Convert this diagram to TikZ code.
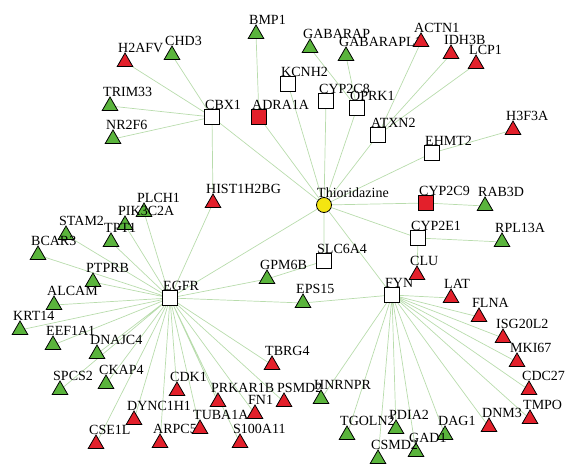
\documentclass[tikz,border=0pt]{standalone}
\usepackage{fontspec}
\setmainfont{Liberation Serif}
\usetikzlibrary{shapes.geometric,backgrounds}
\definecolor{netRed}{HTML}{E3202B}
\definecolor{netGreen}{HTML}{5AB43C}
\definecolor{netYellow}{HTML}{F4E511}
\definecolor{edgeGreen}{HTML}{B8DCAC}

\begin{document}
\begin{tikzpicture}[
    x=1pt, y=-1pt,
    font=\fontsize{14}{16}\selectfont,
    lab/.style={anchor=base west, xshift=-7pt, inner sep=0pt},
    tri/.style={draw, thick, regular polygon, regular polygon sides=3, minimum size=18pt, inner sep=0pt, yshift=-2pt},
    gtri/.style={tri, fill=netGreen},
    rtri/.style={tri, fill=netRed},
    sq/.style={draw, thick, rectangle, minimum size=15pt, inner sep=0pt, fill=white},
    rsq/.style={sq, fill=netRed},
    drug/.style={draw, thick, circle, minimum size=15pt, inner sep=0pt, fill=netYellow},
    edge/.style={draw=edgeGreen, line width=0.7pt}
]
    \useasboundingbox (0,0) rectangle (565,466);

    % drug and target proteins
    \node[drug, label={[lab]north:Thioridazine}] (thio) at (324,205) {};
    \node[sq, label={[lab]north:CBX1}] (CBX1) at (212,117) {};
    \node[rsq, label={[lab]north:ADRA1A}] (ADRA1A) at (259,117) {};
    \node[sq, label={[lab]north:KCNH2}] (KCNH2) at (288,84) {};
    \node[sq, label={[lab]north:CYP2C8}] (CYP2C8) at (326,101) {};
    \node[sq, label={[lab]north:OPRK1}] (OPRK1) at (357,108) {};
    \node[sq, label={[lab]north:ATXN2}] (ATXN2) at (378,135) {};
    \node[sq, label={[lab]north:EHMT2}] (EHMT2) at (432,153) {};
    \node[rsq, label={[lab]north:CYP2C9}] (CYP2C9) at (426,203) {};
    \node[sq, label={[lab]north:CYP2E1}] (CYP2E1) at (418,238) {};
    \node[sq, label={[lab]north:SLC6A4}] (SLC6A4) at (324,261) {};
    \node[sq, label={[lab]north:EGFR}] (EGFR) at (170,298) {};
    \node[sq, label={[lab]north:FYN}] (FYN) at (392,295) {};

    % top
    \node[rtri, label={[lab]north:H2AFV}] (H2AFV) at (125,60) {};
    \node[gtri, label={[lab]north:CHD3}] (CHD3) at (172,53) {};
    \node[gtri, label={[lab]north:TRIM33}] (TRIM33) at (110,104) {};
    \node[gtri, label={[lab]north:NR2F6}] (NR2F6) at (113,137) {};
    \node[gtri, label={[lab]north:BMP1}] (BMP1) at (256,32) {};
    \node[gtri, label={[lab]north:GABARAP}] (GABARAP) at (310,46) {};
    \node[gtri, label={[lab]north:GABARAPL1}] (GABARAPL1) at (346,54) {};
    \node[rtri, label={[lab]north:ACTN1}] (ACTN1) at (421,40) {};
    \node[rtri, label={[lab]north:IDH3B}] (IDH3B) at (451,52) {};
    \node[rtri, label={[lab]north:LCP1}] (LCP1) at (476,62) {};
    \node[rtri, label={[lab]north:H3F3A}] (H3F3A) at (513,128) {};

    % middle
    \node[rtri, label={[lab]north:HIST1H2BG}] (HIST1H2BG) at (213,201) {};
    \node[gtri, label={[lab]north:RAB3D}] (RAB3D) at (485,204) {};
    \node[gtri, label={[lab]north:RPL13A}] (RPL13A) at (502,240) {};
    \node[rtri, label={[lab]north:CLU}] (CLU) at (417,273) {};
    \node[gtri, label={[lab]north:GPM6B}] (GPM6B) at (267,277) {};
    \node[gtri, label={[lab]north:EPS15}] (EPS15) at (303,301) {};

    % EGFR partners
    \node[gtri, label={[lab]north:PLCH1}] (PLCH1) at (144,210) {};
    \node[gtri, label={[lab]north:PIK3C2A}] (PIK3C2A) at (125,223) {};
    \node[gtri, label={[lab]north:TPT1}] (TPT1) at (111,240) {};
    \node[gtri, label={[lab]north:STAM2}] (STAM2) at (66,233) {};
    \node[gtri, label={[lab]north:BCAR3}] (BCAR3) at (38,253) {};
    \node[gtri, label={[lab]north:PTPRB}] (PTPRB) at (93,280) {};
    \node[gtri, label={[lab]north:ALCAM}] (ALCAM) at (54,303) {};
    \node[gtri, label={[lab]north:KRT14}] (KRT14) at (20,328) {};
    \node[gtri, label={[lab]north:EEF1A1}] (EEF1A1) at (53,343) {};
    \node[gtri, label={[lab]north:DNAJC4}] (DNAJC4) at (97,352) {};
    \node[gtri, label={[lab]north:CKAP4}] (CKAP4) at (106,382) {};
    \node[gtri, label={[lab]north:SPCS2}] (SPCS2) at (60,388) {};
    \node[rtri, label={[lab]north:CDK1}] (CDK1) at (177,389) {};
    \node[rtri, label={[lab]north:DYNC1H1}] (DYNC1H1) at (134,418) {};
    \node[rtri, label={[lab]north:CSE1L}] (CSE1L) at (96,442) {};
    \node[rtri, label={[lab]north:ARPC5}] (ARPC5) at (160,441) {};
    \node[rtri, label={[lab]north:TUBA1A}] (TUBA1A) at (200,427) {};
    \node[rtri, label={[lab]north:PRKAR1B}] (PRKAR1B) at (218,400) {};
    \node[rtri, label={[lab]north:FN1}] (FN1) at (255,412) {};
    \node[rtri, label={[lab]north:PSMD2}] (PSMD2) at (284,400) {};
    \node[rtri, label={[lab]north:S100A11}] (S100A11) at (240,441) {};
    \node[rtri, label={[lab]north:TBRG4}] (TBRG4) at (272,363) {};

    % FYN partners
    \node[rtri, label={[lab]north:LAT}] (LAT) at (451,296) {};
    \node[rtri, label={[lab]north:FLNA}] (FLNA) at (479,315) {};
    \node[rtri, label={[lab]north:ISG20L2}] (ISG20L2) at (503,336) {};
    \node[rtri, label={[lab]north:MKI67}] (MKI67) at (517,360) {};
    \node[rtri, label={[lab]north:CDC27}] (CDC27) at (529,388) {};
    \node[rtri, label={[lab]north:TMPO}] (TMPO) at (530,417) {};
    \node[rtri, label={[lab]north:DNM3}] (DNM3) at (489,425) {};
    \node[gtri, label={[lab]north:DAG1}] (DAG1) at (445,433) {};
    \node[gtri, label={[lab]north:GAD1}] (GAD1) at (416,450) {};
    \node[gtri, label={[lab]north:PDIA2}] (PDIA2) at (396,427) {};
    \node[gtri, label={[lab]north:CSMD2}] (CSMD2) at (378,457) {};
    \node[gtri, label={[lab]north:TGOLN2}] (TGOLN2) at (347,433) {};
    \node[gtri, label={[lab]north:HNRNPR}] (HNRNPR) at (321,397) {};

    \begin{scope}[on background layer]
    \draw[edge] (thio) -- (CBX1) (thio) -- (ADRA1A) (thio) -- (KCNH2) (thio) -- (CYP2C8)
        (thio) -- (OPRK1) (thio) -- (ATXN2) (thio) -- (EHMT2) (thio) -- (CYP2C9)
        (thio) -- (CYP2E1) (thio) -- (SLC6A4) (thio) -- (EGFR) (thio) -- (FYN);
    \draw[edge] (CBX1) -- (H2AFV) (CBX1) -- (CHD3) (CBX1) -- (TRIM33) (CBX1) -- (NR2F6)
        (CBX1) -- (HIST1H2BG);
    \draw[edge] (ADRA1A) -- (BMP1) (OPRK1) -- (GABARAP) (OPRK1) -- (GABARAPL1);
    \draw[edge] (ATXN2) -- (ACTN1) (ATXN2) -- (IDH3B) (ATXN2) -- (LCP1) (EHMT2) -- (H3F3A);
    \draw[edge] (CYP2C9) -- (RAB3D) (CYP2E1) -- (RPL13A) (CYP2E1) -- (CLU) (SLC6A4) -- (GPM6B);
    \draw[edge] (EGFR) -- (HIST1H2BG) (EGFR) -- (GPM6B) (EGFR) -- (EPS15) (EGFR) -- (PLCH1)
        (EGFR) -- (PIK3C2A) (EGFR) -- (TPT1) (EGFR) -- (STAM2) (EGFR) -- (BCAR3)
        (EGFR) -- (PTPRB) (EGFR) -- (ALCAM) (EGFR) -- (KRT14) (EGFR) -- (EEF1A1)
        (EGFR) -- (DNAJC4) (EGFR) -- (CKAP4) (EGFR) -- (SPCS2) (EGFR) -- (CSE1L)
        (EGFR) -- (DYNC1H1) (EGFR) -- (ARPC5) (EGFR) -- (CDK1) (EGFR) -- (TUBA1A)
        (EGFR) -- (PRKAR1B) (EGFR) -- (FN1) (EGFR) -- (PSMD2) (EGFR) -- (S100A11)
        (EGFR) -- (TBRG4);
    \draw[edge] (FYN) -- (EPS15) (FYN) -- (LAT) (FYN) -- (FLNA) (FYN) -- (ISG20L2)
        (FYN) -- (MKI67) (FYN) -- (CDC27) (FYN) -- (TMPO) (FYN) -- (DNM3)
        (FYN) -- (DAG1) (FYN) -- (GAD1) (FYN) -- (PDIA2) (FYN) -- (CSMD2)
        (FYN) -- (TGOLN2) (FYN) -- (HNRNPR);
    \end{scope}
\end{tikzpicture}
\end{document}
